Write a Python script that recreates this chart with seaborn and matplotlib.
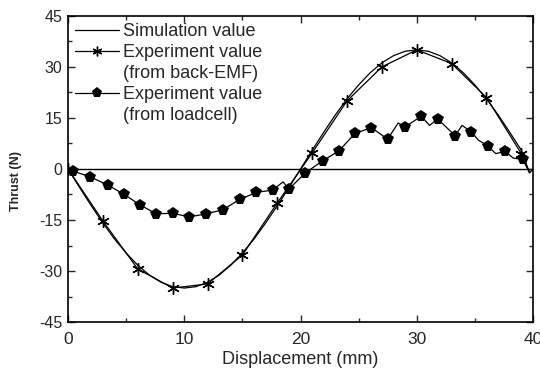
import numpy as np
import pandas as pd
import seaborn as sns
import matplotlib
matplotlib.use("Agg")
import matplotlib.pyplot as plt
from matplotlib.lines import Line2D
from matplotlib.ticker import MultipleLocator

# simulation curve
sim_x = [0, 1, 2, 3, 4, 5, 6, 7, 8, 9, 10, 11, 12, 13, 14, 15, 16, 17, 18, 19, 20,
         21, 22, 23, 24, 25, 26, 27, 28, 29, 30, 31, 32, 33, 34, 35, 36, 37, 38, 39, 39.7, 40]
sim_y = [0, -5.5, -10.8, -15.9, -20.6, -24.7, -28.3, -31.2, -33.3, -34.6, -35.0, -34.6, -33.3,
         -31.2, -28.3, -24.7, -20.6, -15.9, -10.8, -5.5, 0, 5.5, 10.8, 15.9, 20.6, 24.7, 28.3,
         31.2, 33.3, 34.6, 35.0, 34.6, 33.3, 31.2, 28.3, 24.7, 20.6, 15.9, 10.8, 5.5, -1.2, 0]

# experiment, back-EMF
emf_x = [0, 3, 6, 9, 12, 15, 18, 21, 24, 27, 30, 33, 36, 39, 39.7]
emf_y = [0, -15.3, -29.4, -35.0, -33.8, -25.3, -10.0, 4.7, 20.0, 30.0, 35.0, 31.0, 21.0, 4.5, -1.0]
emf_mark = [True] * 14 + [False]

# experiment, loadcell (with small wiggles between markers)
load_x = [0.4, 1.9, 3.4, 4.8, 6.2, 7.6, 9.0, 10.4, 11.9, 13.3, 14.8, 16.2, 17.6, 18.5, 19.0,
          20.4, 21.9, 23.3, 24.7, 26.1, 27.5, 28.4, 29.0, 30.4, 31.1, 31.8, 33.3, 33.9, 34.7,
          35.3, 36.1, 36.8, 37.6, 38.3, 39.1, 39.6]
load_y = [-0.6, -2.3, -4.7, -7.4, -10.6, -13.2, -13.0, -14.1, -13.2, -12.0, -8.9, -6.9, -6.2,
          -3.8, -5.9, -1.2, 2.4, 5.3, 10.5, 12.1, 8.8, 13.5, 12.4, 15.5, 12.8, 14.7, 9.8, 12.8,
          10.9, 8.5, 6.8, 4.5, 5.2, 3.2, 2.8, -0.3]
load_mark = [True] * 13 + [False, True, True, True, True, True, True, True, False, True, True,
                           False, True, True, False, True, False, True, False, True, False, True, False]

sns.set_style("ticks")
plt.rcParams["font.family"] = ["Liberation Sans", "DejaVu Sans"]
plt.rcParams["axes.unicode_minus"] = False

fig = plt.figure(figsize=(5.4, 3.78), dpi=100)
ax = fig.add_axes([0.126, 0.148, 0.861, 0.81])

sns.lineplot(x=sim_x, y=sim_y, ax=ax, color="black", lw=0.9, sort=False)
sns.lineplot(x=emf_x, y=emf_y, ax=ax, color="black", lw=0.9, sort=False,
             marker=(6, 2, 0), markersize=9, markeredgewidth=1.0,
             markeredgecolor="black", markevery=emf_mark)
sns.lineplot(x=load_x, y=load_y, ax=ax, color="black", lw=0.9, sort=False,
             marker="p", markersize=8.5, markeredgewidth=0, markevery=load_mark)
ax.axhline(0, color="black", lw=1.0)

ax.set_xlim(0, 40)
ax.set_ylim(-45, 45)
ax.xaxis.set_major_locator(MultipleLocator(10))
ax.xaxis.set_minor_locator(MultipleLocator(5))
ax.yaxis.set_major_locator(MultipleLocator(15))
ax.yaxis.set_minor_locator(MultipleLocator(7.5))
ax.tick_params(which="both", direction="in", top=True, right=True, width=1.0)
ax.tick_params(which="major", length=5)
ax.tick_params(which="minor", length=3)
ax.tick_params(axis="x", labelsize=12.5, pad=7)
ax.tick_params(axis="y", labelsize=11.5, pad=4)
for s in ax.spines.values():
    s.set_linewidth(1.2)
    s.set_color("black")

ax.set_xlabel("Displacement (mm)", fontsize=13, labelpad=3)
ax.set_ylabel("Thrust (N)", fontsize=9, fontweight="bold")
ax.yaxis.set_label_coords(-0.1, 0.46)

handles = [Line2D([], [], color="black", lw=0.9),
           Line2D([], [], color="black", lw=0.9, marker=(6, 2, 0), markersize=7),
           Line2D([], [], color="none"),
           Line2D([], [], color="black", lw=0.9, marker="p", markersize=8, markeredgewidth=0),
           Line2D([], [], color="none")]
labels = ["Simulation value", "Experiment value", "(from back-EMF)",
          "Experiment value", "(from loadcell)"]
ax.legend(handles, labels, loc="upper left", bbox_to_anchor=(0.0, 1.0), frameon=False,
          fontsize=13, handlelength=2.4, handletextpad=0.25, labelspacing=0.22,
          borderaxespad=0.1, borderpad=0.3)

fig.savefig("out.png", dpi=100)
